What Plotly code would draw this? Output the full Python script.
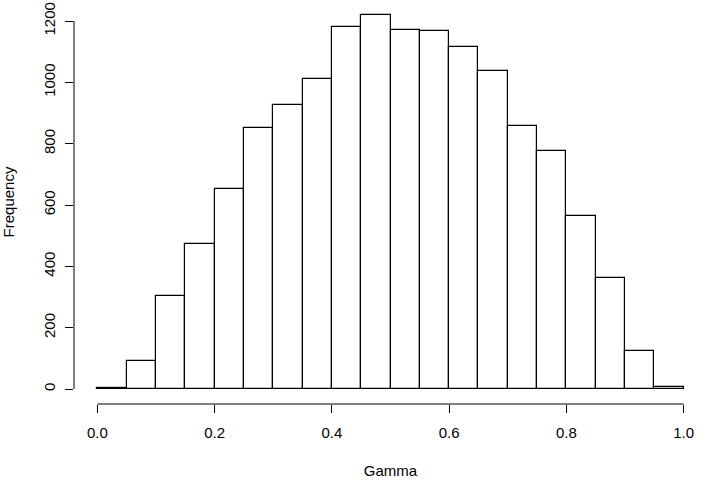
import plotly.graph_objects as go

bin_left = [0.00, 0.05, 0.10, 0.15, 0.20, 0.25, 0.30, 0.35, 0.40, 0.45,
            0.50, 0.55, 0.60, 0.65, 0.70, 0.75, 0.80, 0.85, 0.90, 0.95]
bin_width = 0.05
counts = [4, 92, 304, 472, 652, 852, 925, 1010, 1182, 1220,
          1172, 1169, 1115, 1036, 859, 775, 565, 361, 125, 8]
x_ticks = [0.0, 0.2, 0.4, 0.6, 0.8, 1.0]
x_tick_labels = ["0.0", "0.2", "0.4", "0.6", "0.8", "1.0"]
y_ticks = [0, 200, 400, 600, 800, 1000, 1200]
y_tick_labels = ["0", "200", "400", "600", "800", "1000", "1200"]

font = dict(family="Liberation Sans, Arial, sans-serif", size=15, color="black")

fig = go.Figure()
fig.add_trace(go.Bar(
    x=bin_left, y=counts, width=bin_width, offset=0,
    marker=dict(color="white", line=dict(color="black", width=1.2)),
    hoverinfo="skip",
))

ymax = max(counts)
fig.update_layout(
    width=708, height=481,
    margin=dict(l=74, r=1, t=0, b=77, autoexpand=False),
    paper_bgcolor="white", plot_bgcolor="white",
    font=font, showlegend=False, bargap=0,
    xaxis=dict(range=[-0.04, 1.04], tickvals=x_ticks, ticktext=x_tick_labels,
               ticks="outside", ticklen=8, tickwidth=1, tickcolor="black",
               ticklabelstandoff=7,
               showgrid=False, zeroline=False, showline=False, automargin=False,
               title=dict(text="Gamma", standoff=25, font=font)),
    yaxis=dict(range=[-0.04 * ymax, 1.04 * ymax], tickvals=y_ticks, ticktext=y_tick_labels,
               ticks="outside", ticklen=8, tickwidth=1, tickcolor="black",
               tickangle=-90, ticklabelstandoff=4,
               showgrid=False, zeroline=False, showline=False, automargin=False,
               title=dict(text="Frequency", standoff=22, font=font)),
)
# R-style axis lines spanning only the tick range
fig.add_shape(type="line", xref="x", yref="paper", x0=x_ticks[0], x1=x_ticks[-1], y0=0, y1=0,
              line=dict(color="black", width=1))
fig.add_shape(type="line", xref="paper", yref="y", x0=0, x1=0, y0=y_ticks[0], y1=y_ticks[-1],
              line=dict(color="black", width=1))

fig.write_html("out.html", config={"displayModeBar": False},
               post_script="document.body.style.margin='0';document.body.style.overflow='hidden';")
